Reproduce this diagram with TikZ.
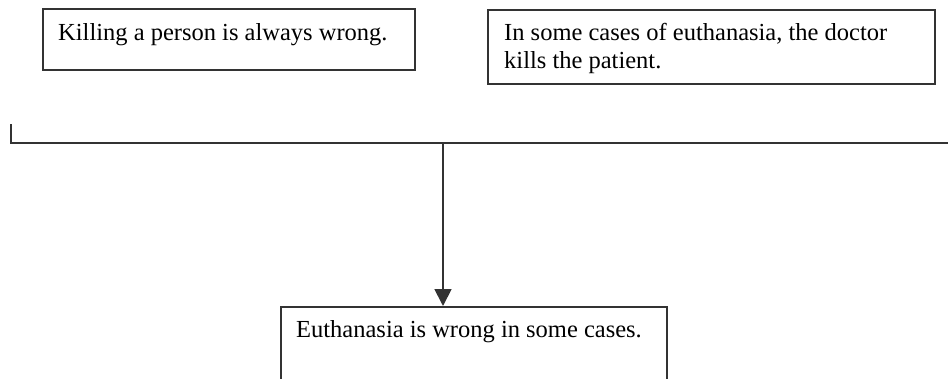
\documentclass[tikz,border=0pt]{standalone}
\usepackage{fontspec}
\setmainfont{Liberation Serif}
\usetikzlibrary{arrows.meta}
\definecolor{linegray}{HTML}{333333}
\tikzset{
  box/.style={draw=linegray, line width=1.8pt, rectangle, anchor=north west, inner sep=0pt},
  boxtext/.style={anchor=base west, inner sep=0pt, align=left, font=\fontsize{24.5}{28}\selectfont, text=black},
  conn/.style={draw=linegray, line width=1.8pt},
}
\begin{document}
\begin{tikzpicture}[x=1pt,y=-1pt]
\useasboundingbox (0,0) rectangle (948,378);
\clip (0,0) rectangle (948,378);
% boxes
\node[box, minimum width=372pt, minimum height=61pt] (p1) at (42,8) {};
\node[boxtext] (t1) at (58,40) {Killing a person is always wrong.};
\node[box, minimum width=447pt, minimum height=74pt] (p2) at (487,9) {};
\node[boxtext] (t2) at (504,68) {In some cases of euthanasia, the doctor\\kills the patient.};
\node[box, minimum width=386pt, minimum height=100pt] (c) at (280,306) {};
\node[boxtext] (t3) at (296,337) {Euthanasia is wrong in some cases.};
% bracket
\coordinate (bl) at (11,124);
\coordinate (bc) at (11,143);
\coordinate (br) at (948,143);
\coordinate (bm) at (443,143);
\draw[conn] (bl) -- (bc) -- (br);
\draw[conn, -{Triangle[length=17pt,width=17pt]}] (bm) -- (bm |- c.north);
\end{tikzpicture}
\end{document}
